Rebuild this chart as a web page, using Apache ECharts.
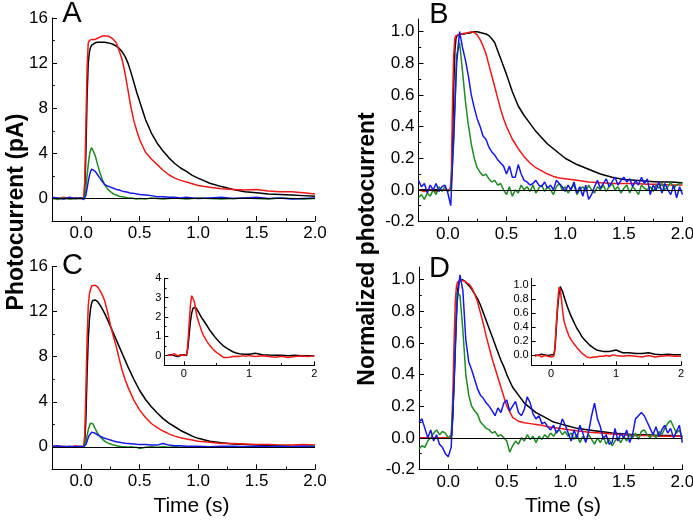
<!DOCTYPE html>
<html><head><meta charset="utf-8">
<script src="https://cdn.jsdelivr.net/npm/echarts@6/dist/echarts.min.js"></script>
<style>html,body{margin:0;padding:0;background:#fff}#c{width:693px;height:520px}</style>
</head><body><div id="c"></div>
<script>
// ---- time grids (s) ----
const T = [-0.25,-0.2,-0.15,-0.1,-0.05,0,
  0.02,0.03,0.04,0.05,0.06,0.07,0.08,0.09,0.1,
  0.12,0.14,0.16,0.18,0.2,
  0.225,0.25,0.275,0.3,0.325,0.35,0.375,0.4,0.425,0.45,0.475,0.5,
  0.55,0.6,0.65,0.7,0.75,0.8,0.85,0.9,0.95,1.0,
  1.1,1.2,1.3,1.4,1.5,1.6,1.7,1.8,1.9,2.0];
const TN = [-0.25,-0.225,-0.2,-0.175,-0.15,-0.125,-0.1,-0.075,-0.05,-0.025,
  0,0.025,0.05,0.075,0.1,0.125,0.15,0.175,0.2,0.225,
  0.25,0.275,0.3,0.325,0.35,0.375,0.4,0.425,0.45,0.475,
  0.5,0.525,0.55,0.575,0.6,0.625,0.65,0.675,0.7,0.725,
  0.75,0.775,0.8,0.825,0.85,0.875,0.9,0.925,0.95,0.975,
  1.0,1.025,1.05,1.075,1.1,1.125,1.15,1.175,1.2,1.225,
  1.25,1.275,1.3,1.325,1.35,1.375,1.4,1.425,1.45,1.475,
  1.5,1.525,1.55,1.575,1.6,1.625,1.65,1.675,1.7,1.725,
  1.75,1.775,1.8,1.825,1.85,1.875,1.9,1.925,1.95,1.975,
  2.0];

// ---- Panel A: photocurrent (pA) ----
const aRed = [0.05,-0.05,0.1,0.0,0.05,0.0,
  0.05,1.5,6.5,11.5,13.8,14.0,14.0,14.1,14.1,
  14.1,14.2,14.3,14.4,14.4,
  14.4,14.3,14.1,13.8,13.1,12.3,11.1,9.6,8.1,6.9,6.0,5.2,
  4.1,3.5,3.0,2.5,2.1,1.8,1.6,1.45,1.3,1.15,
  1.0,0.85,0.8,0.75,0.8,0.65,0.6,0.6,0.5,0.4];
const aBlack = [0,0,0,0,0,0,
  0,0.5,4,9,12,13.0,13.4,13.6,13.7,
  13.8,13.85,13.85,13.85,13.85,
  13.8,13.75,13.65,13.5,13.3,13.0,12.6,12.0,11.2,10.3,9.4,8.6,
  7.0,5.8,4.9,4.2,3.6,3.1,2.7,2.4,2.05,1.8,
  1.35,1.05,0.8,0.6,0.5,0.4,0.35,0.3,0.25,0.2];
const aGreen = [0.05,-0.1,0.05,-0.05,0.0,0.05,
  0.0,0.2,1.0,2.0,3.0,3.8,4.3,4.5,4.4,
  3.8,3.0,2.3,1.7,1.2,
  0.85,0.6,0.4,0.3,0.2,0.15,0.1,0.05,0.05,0.0,-0.05,0.0,
  -0.05,0.05,0.0,-0.05,0.0,0.05,0.0,-0.05,0.0,0.05,
  0.0,-0.05,0.0,0.05,0.0,-0.05,0.05,0.0,-0.05,0.0];
const aBlue = [0.1,0.05,-0.05,0.1,0.0,0.05,
  -0.1,-0.2,0.3,0.9,1.5,2.0,2.4,2.6,2.65,
  2.4,2.1,1.8,1.5,1.25,
  1.1,1.0,0.9,0.8,0.75,0.65,0.6,0.55,0.45,0.45,0.4,0.35,
  0.3,0.25,0.15,0.15,0.1,0.1,0.05,0.1,0.05,0.0,
  0.05,0.1,0.0,0.05,0.1,0.0,0.05,-0.05,0.0,0.05];

// ---- Panel B: normalized ----
const bBlack = [0,0,0,0,0,0,
  0.0,0.05,0.3,0.65,0.88,0.96,0.975,0.98,0.98,
  0.985,0.985,0.99,0.99,0.995,
  1.0,1.0,0.995,0.99,0.985,0.975,0.955,0.93,0.88,0.83,0.78,0.73,
  0.62,0.53,0.47,0.42,0.37,0.33,0.29,0.26,0.23,0.2,
  0.16,0.13,0.1,0.08,0.065,0.06,0.055,0.05,0.05,0.045];
const bRed = [0,-0.01,0,-0.01,0,0,
  0.0,0.1,0.55,0.85,0.96,0.975,0.98,0.98,0.985,
  0.985,0.99,0.99,0.995,1.0,
  0.995,0.98,0.95,0.91,0.86,0.79,0.72,0.65,0.58,0.51,0.45,0.4,
  0.32,0.26,0.21,0.17,0.14,0.12,0.1,0.085,0.075,0.07,
  0.06,0.05,0.045,0.04,0.04,0.04,0.035,0.035,0.03,0.03];
const bBlue = [0.06,0.02,0.04,-0.02,0.03,0.0,0.04,-0.01,0.02,0.03,
  -0.02,-0.1,0.35,0.8,1.0,0.9,0.82,0.72,0.6,0.52,
  0.45,0.4,0.34,0.32,0.27,0.24,0.22,0.19,0.17,0.15,
  0.1,0.15,0.08,0.08,0.16,0.1,0.06,0.05,0.03,0.04,
  0.06,0.03,0.02,0.05,0.01,0.03,0.0,0.06,0.04,0.02,
  -0.01,0.03,0.0,0.05,-0.02,0.02,-0.04,0.03,-0.06,-0.03,
  0.02,0.06,0.01,0.04,0.07,0.02,0.05,0.08,0.03,0.06,
  0.08,0.05,0.07,0.02,0.06,0.03,0.08,0.04,0.07,-0.03,
  0.03,0.0,0.05,-0.02,0.04,0.0,-0.03,0.03,-0.05,0.02,
  -0.03];
const bGreen = [-0.05,-0.03,-0.06,-0.02,-0.04,0.0,-0.03,0.02,-0.01,0.02,
  -0.01,0.0,0.3,0.85,0.93,0.75,0.56,0.41,0.29,0.2,
  0.14,0.11,0.09,0.1,0.07,0.05,0.06,0.03,0.04,0.0,
  -0.03,0.02,-0.04,0.0,-0.02,0.03,0.0,0.02,-0.01,0.03,
  -0.02,0.01,0.03,-0.01,0.02,0.0,-0.03,0.02,0.04,0.0,
  0.02,-0.02,0.01,0.03,-0.03,0.0,0.02,-0.01,0.03,0.0,
  -0.02,0.02,0.0,0.03,-0.01,0.02,0.04,0.0,0.02,-0.02,
  0.01,0.03,-0.02,0.02,0.0,-0.03,0.03,0.01,0.0,0.02,
  -0.01,0.03,0.01,0.04,0.0,0.02,0.05,0.01,0.03,0.04,
  0.04];

// ---- Panel C: photocurrent (pA) ----
const cRed = [0.1,0.0,0.05,-0.05,0.1,0.0,
  0.0,1.0,5.0,9.5,12.5,13.6,14.0,14.3,14.4,
  14.35,14.2,13.9,13.5,13.0,
  12.0,10.8,9.8,8.9,7.8,6.8,6.0,5.3,4.7,4.15,3.7,3.26,
  2.6,2.07,1.7,1.4,1.15,0.95,0.8,0.7,0.6,0.5,
  0.4,0.3,0.3,0.25,0.2,0.2,0.15,0.15,0.2,0.15];
const cBlack = [0,0,0,0,0,0,
  0.0,0.3,2.5,6.5,9.5,11.3,12.3,12.8,13.0,
  13.05,12.9,12.6,12.25,11.85,
  11.3,10.7,10.1,9.5,8.9,8.3,7.7,7.1,6.55,6.0,5.5,5.0,
  4.2,3.55,3.0,2.5,2.1,1.78,1.45,1.2,0.95,0.75,
  0.5,0.35,0.25,0.2,0.15,0.1,0.1,0.05,0.05,0.05];
const cGreen = [0.0,-0.05,0.0,-0.05,0.0,-0.05,
  0.0,0.1,0.5,1.0,1.5,1.85,2.1,2.15,2.05,
  1.6,1.2,0.9,0.7,0.5,
  0.35,0.25,0.15,0.1,0.05,0.0,0.0,-0.05,0.0,-0.05,-0.05,-0.15,
  -0.05,0.0,-0.05,0.0,-0.05,0.0,-0.05,0.0,0.0,-0.05,
  0.0,-0.05,0.0,0.0,-0.05,0.0,0.05,0.0,0.0,0.05];
const cBlue = [0.05,0.1,0.0,0.05,0.0,0.05,
  0.0,0.0,0.2,0.5,0.8,1.05,1.2,1.3,1.3,
  1.2,1.05,0.95,0.85,0.75,
  0.68,0.6,0.52,0.45,0.4,0.35,0.32,0.3,0.28,0.25,0.22,0.2,
  0.2,0.15,0.15,0.3,0.15,0.1,0.1,0.05,0.05,0.05,
  0.0,0.05,0.05,0.0,0.05,0.0,0.05,0.0,0.05,0.0];

// ---- Panel D: normalized ----
const dBlack = [0,0,0,0,0,0,
  0.0,0.02,0.15,0.38,0.6,0.8,0.93,0.99,1.0,
  1.0,0.99,0.975,0.96,0.94,
  0.91,0.88,0.84,0.79,0.74,0.69,0.64,0.59,0.54,0.49,0.45,0.4,
  0.32,0.27,0.22,0.19,0.16,0.14,0.12,0.1,0.09,0.08,
  0.06,0.05,0.04,0.03,0.025,0.02,0.02,0.015,0.015,0.01];
const dRed = [0,0,0,0,0,0,
  0.0,0.05,0.3,0.62,0.86,0.96,0.985,0.99,0.995,
  0.995,0.99,0.98,0.97,0.95,
  0.91,0.86,0.79,0.72,0.64,0.57,0.5,0.44,0.38,0.32,0.26,0.2,
  0.13,0.105,0.095,0.09,0.085,0.08,0.07,0.065,0.06,0.055,
  0.045,0.035,0.03,0.025,0.02,0.015,0.015,0.01,0.01,0.01];
const dBlue = [0.1,0.12,0.06,0.0,0.05,-0.02,0.02,-0.04,-0.06,-0.1,
  -0.12,-0.06,0.35,0.85,1.03,0.93,0.62,0.48,0.43,0.37,
  0.31,0.27,0.25,0.22,0.2,0.17,0.14,0.19,0.16,0.22,
  0.24,0.17,0.2,0.23,0.16,0.14,0.18,0.26,0.22,0.15,
  0.12,0.14,0.09,0.1,0.07,0.05,0.08,0.03,0.06,0.12,
  0.08,0.03,-0.02,0.05,0.0,0.08,0.03,-0.03,0.04,0.14,
  0.22,0.12,0.07,-0.01,0.02,-0.04,-0.03,0.06,-0.02,0.03,
  0.0,0.05,-0.03,0.02,0.12,0.14,0.16,0.14,0.1,0.06,
  0.02,0.07,0.01,0.05,0.08,0.03,0.06,0.0,0.04,0.08,
  -0.03];
const dGreen = [-0.07,-0.05,-0.06,-0.02,0.0,0.03,0.05,0.02,0.04,0.03,
  0.0,0.02,0.35,0.92,0.9,0.68,0.4,0.27,0.2,0.17,
  0.15,0.1,0.08,0.06,0.05,0.03,0.04,0.01,0.02,0.0,
  -0.02,-0.09,-0.05,-0.02,-0.04,0.0,-0.02,0.02,-0.01,0.01,
  -0.03,0.01,-0.01,0.02,0.0,0.03,0.01,0.04,0.05,0.02,
  0.04,0.01,0.03,-0.01,0.02,-0.03,0.01,-0.02,0.02,-0.01,
  -0.04,0.0,-0.03,0.01,-0.04,-0.01,-0.05,-0.02,0.0,-0.03,
  0.01,-0.02,0.02,0.0,0.03,-0.01,0.04,0.05,0.02,0.0,
  0.03,0.0,0.04,0.02,0.06,0.09,0.11,0.07,0.03,0.05,
  0.0];

// ---- Insets ----
const icRed = [0.05,0.0,0.1,0.0,0.05,0.0,
  0.0,0.0,0.05,0.2,0.6,1.1,1.6,2.1,2.6,
  3.1,3.2,2.8,2.4,2.05,
  1.75,1.5,1.25,1.05,0.9,0.75,0.65,0.52,0.42,0.32,0.25,0.17,
  0.05,-0.08,-0.1,-0.08,-0.05,-0.03,-0.05,0.0,-0.03,0.0,
  -0.05,0.0,-0.05,-0.08,-0.03,-0.1,-0.05,-0.02,-0.05,0.0];
const icBlack = [0.0,0.05,0.0,-0.05,0.0,0.05,
  0.0,0.0,0.0,0.1,0.35,0.7,1.05,1.4,1.75,
  2.2,2.45,2.55,2.5,2.4,
  2.25,2.1,1.95,1.83,1.7,1.57,1.44,1.3,1.2,1.08,0.97,0.87,
  0.68,0.52,0.4,0.3,0.2,0.14,0.1,0.08,0.07,0.07,
  0.12,0.05,0.03,0.02,0.02,0.0,0.02,0.0,0.0,0.0];
const idRed = [-0.02,0.0,-0.03,-0.01,-0.02,-0.03,
  -0.02,-0.02,-0.02,0.02,0.15,0.3,0.45,0.6,0.74,
  0.97,0.94,0.78,0.6,0.48,
  0.4,0.33,0.27,0.23,0.19,0.16,0.13,0.1,0.08,0.05,0.02,0.0,
  -0.03,-0.04,-0.03,-0.03,-0.02,-0.02,-0.01,-0.02,0.0,-0.01,
  -0.02,-0.01,-0.02,-0.03,-0.01,-0.03,-0.02,-0.01,-0.02,-0.02];
const idBlack = [0.0,-0.01,0.01,0.0,-0.01,0.0,
  0.0,0.0,0.0,0.0,0.1,0.25,0.4,0.55,0.68,
  0.87,0.98,0.97,0.9,0.83,
  0.76,0.69,0.63,0.57,0.52,0.47,0.42,0.375,0.34,0.3,0.26,0.23,
  0.18,0.135,0.1,0.07,0.06,0.05,0.05,0.05,0.06,0.07,
  0.03,0.03,0.02,0.02,0.03,0.01,0.0,0.01,0.0,0.0];

// ---- tick labels ----
const xMain = [0,0.5,1,1.5,2], xMainMinor = [0.25,0.75,1.25,1.75];
const yPA = [0,4,8,12,16], yPAMinor = [-2,2,6,10,14];
const yNorm = [-0.2,0,0.2,0.4,0.6,0.8,1.0], yNormMinor = [-0.1,0.1,0.3,0.5,0.7,0.9];
const xIns = [0,1,2], xInsMinor = [0.5,1.5];
const yInsC = [0,1,2,3,4], yInsCMinor = [-0.5,0.5,1.5,2.5,3.5];
const yInsD = [0,0.2,0.4,0.6,0.8,1.0];

const FONT = '"Liberation Sans", Arial, sans-serif';
const RED='#f01818', BLK='#000000', GRN='#1f8a22', BLU='#1818e6';

const grids = [
  {left:52, top:18, width:263, height:203},
  {left:418.5, top:19, width:264, height:202.5},
  {left:52, top:266.7, width:263, height:202.6},
  {left:419, top:267, width:263.3, height:202.5},
  {left:164.3, top:278.3, width:150, height:87},
  {left:531.7, top:278.3, width:149.3, height:87}
].map(g => Object.assign({outerBoundsMode:'none', containLabel:false}, g));

const f1 = v => v.toFixed(1), f0 = v => String(Math.round(v));

function axPair(kind, gi, min, max, major, minor, fs, fmt, tl, margin) {
  const pos = kind === 'x' ? 'bottom' : 'left';
  return [
    {type:'value', gridIndex:gi, min, max, position:pos,
     axisLine:{show:true, onZero:false, lineStyle:{color:'#000', width:1}},
     splitLine:{show:false},
     axisTick:{show:true, inside:true, length:tl, customValues:major, lineStyle:{color:'#000', width:1}},
     axisLabel:{show:true, customValues:major, formatter:fmt, fontSize:fs, color:'#000', fontFamily:FONT, margin:margin}},
    {type:'value', gridIndex:gi, min, max, position:pos,
     axisLine:{show:false, onZero:false}, splitLine:{show:false},
     axisTick:{show:true, inside:true, length:Math.max(2, tl*0.55), customValues:minor, lineStyle:{color:'#000', width:1}},
     axisLabel:{show:false}}
  ];
}

const xAxis = [].concat(
  axPair('x',0,-0.25,2,xMain,xMainMinor,17,f1,5,4),
  axPair('x',1,-0.25,2,xMain,xMainMinor,17,f1,5,4),
  axPair('x',2,-0.25,2,xMain,xMainMinor,17,f1,5,4),
  axPair('x',3,-0.25,2,xMain,xMainMinor,17,f1,5,4),
  axPair('x',4,-0.3,2,xIns,xInsMinor,11,f0,4,3),
  axPair('x',5,-0.3,2,xIns,xInsMinor,11,f0,4,3)
);
const yAxis = [].concat(
  axPair('y',0,-2,16,yPA,yPAMinor,17,f0,5,4),
  axPair('y',1,-0.2,1.08,yNorm,yNormMinor,17,f1,5,4),
  axPair('y',2,-2,16,yPA,yPAMinor,17,f0,5,4),
  axPair('y',3,-0.2,1.08,yNorm,yNormMinor,17,f1,5,4),
  axPair('y',4,-0.5,4,yInsC,yInsCMinor,11,f0,4,3),
  axPair('y',5,-0.15,1.1,yInsD,[],11,f1,4,3)
);

const zeroLine = {silent:true, symbol:'none', label:{show:false}, animation:false,
  lineStyle:{color:'#000', width:1, type:'solid'}, data:[{yAxis:0}]};

function ser(gi, X, Y, color, withZero) {
  const s = {type:'line', xAxisIndex:gi*2, yAxisIndex:gi*2,
    data: X.map((t,i)=>[t, Y[i]]), symbol:'none', showSymbol:false,
    lineStyle:{color, width:1.5}, itemStyle:{color}, animation:false, clip:true};
  if (withZero) s.markLine = zeroLine;
  return s;
}

const series = [
  ser(0,T,aBlack,BLK,true), ser(0,T,aRed,RED), ser(0,T,aGreen,GRN), ser(0,T,aBlue,BLU),
  ser(1,T,bBlack,BLK,true), ser(1,T,bRed,RED), ser(1,TN,bGreen,GRN), ser(1,TN,bBlue,BLU),
  ser(2,T,cBlack,BLK,true), ser(2,T,cRed,RED), ser(2,T,cGreen,GRN), ser(2,T,cBlue,BLU),
  ser(3,T,dBlack,BLK,true), ser(3,T,dRed,RED), ser(3,TN,dGreen,GRN), ser(3,TN,dBlue,BLU),
  ser(4,T,icBlack,BLK), ser(4,T,icRed,RED),
  ser(5,T,idBlack,BLK), ser(5,T,idRed,RED)
];

function txt(text, x, y, size, weight, rot) {
  return {type:'text', x, y, rotation: rot || 0, silent:true,
    style:{text, fill:'#000', font: (weight||'normal') + ' ' + size + 'px ' + FONT,
      align:'center', verticalAlign:'middle', textAlign:'center', textVerticalAlign:'middle'}};
}

const graphic = [
  txt('A', 72, 14, 29), txt('B', 439, 14.5, 29), txt('C', 72.5, 266, 29), txt('D', 439.5, 269, 29),
  txt('Photocurrent (pA)', 16.5, 212, 23, 'bold', Math.PI/2),
  txt('Normalized photocurrent', 368, 249, 23, 'bold', Math.PI/2),
  txt('Time (s)', 191.5, 506, 21), txt('Time (s)', 563, 506, 21)
];

const chart = echarts.init(document.getElementById('c'), null, {renderer:'canvas'});
chart.setOption({animation:false, backgroundColor:'#fff', textStyle:{fontFamily:FONT},
  grid:grids, xAxis, yAxis, series, graphic});
</script></body></html>
